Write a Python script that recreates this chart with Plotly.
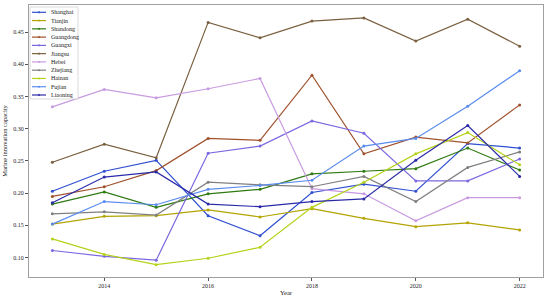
import plotly.graph_objects as go

years = [2013, 2014, 2015, 2016, 2017, 2018, 2019, 2020, 2021, 2022]
provinces = ["Shanghai", "Tianjin", "Shandong", "Guangdong", "Guangxi", "Jiangsu",
             "Hebei", "Zhejiang", "Hainan", "Fujian", "Liaoning"]

Shanghai = [0.203, 0.234, 0.251, 0.165, 0.134, 0.201, 0.214, 0.203, 0.277, 0.270]
Tianjin = [0.152, 0.164, 0.165, 0.174, 0.163, 0.176, 0.161, 0.148, 0.154, 0.143]
Shandong = [0.183, 0.202, 0.178, 0.199, 0.206, 0.230, 0.234, 0.238, 0.270, 0.236]
Guangdong = [0.195, 0.210, 0.235, 0.285, 0.282, 0.383, 0.261, 0.287, 0.278, 0.337]
Guangxi = [0.111, 0.102, 0.096, 0.262, 0.273, 0.312, 0.293, 0.219, 0.219, 0.253]
Jiangsu = [0.248, 0.276, 0.255, 0.465, 0.441, 0.467, 0.472, 0.436, 0.470, 0.428]
Hebei = [0.334, 0.361, 0.348, 0.362, 0.378, 0.207, 0.199, 0.157, 0.193, 0.193]
Zhejiang = [0.168, 0.171, 0.166, 0.217, 0.213, 0.210, 0.226, 0.187, 0.240, 0.264]
Hainan = [0.129, 0.105, 0.089, 0.099, 0.116, 0.178, 0.217, 0.261, 0.294, 0.244]
Fujian = [0.152, 0.187, 0.182, 0.206, 0.212, 0.220, 0.273, 0.285, 0.335, 0.390]
Liaoning = [0.185, 0.225, 0.233, 0.183, 0.179, 0.187, 0.191, 0.251, 0.305, 0.226]

series = [Shanghai, Tianjin, Shandong, Guangdong, Guangxi, Jiangsu,
          Hebei, Zhejiang, Hainan, Fujian, Liaoning]
colors = ["#2f4fd0", "#b3a400", "#2f7a12", "#a0522d", "#7b68e0", "#7a6040",
          "#c89ae0", "#808080", "#b5d21a", "#5a8cf0", "#2a2aa8"]

ytick_vals = [0.10, 0.15, 0.20, 0.25, 0.30, 0.35, 0.40, 0.45]
xtick_vals = [2014, 2016, 2018, 2020, 2022]

FONT = "Liberation Serif, Times New Roman, serif"
W, H = 550, 300
L, R, T, B = 29, 543, 5, 277

fig = go.Figure()
for name, vals, c in zip(provinces, series, colors):
    fig.add_trace(go.Scatter(x=years, y=vals, name=name, mode="lines+markers",
                             line=dict(color=c, width=1.2),
                             marker=dict(color=c, size=3), showlegend=False))

def px(x):
    return (x - L) / (R - L)

def py(y):
    return (B - y) / (B - T)

shapes = []
annotations = []
# legend frame
shapes.append(dict(type="rect", xref="paper", yref="paper",
                   x0=px(30), x1=px(78), y0=py(99), y1=py(7),
                   line=dict(color="#d0d0d0", width=0.8), fillcolor="rgba(255,255,255,0.8)",
                   layer="above"))
for i, (name, c) in enumerate(zip(provinces, colors)):
    yy = 12.3 + i * 8.27
    shapes.append(dict(type="line", xref="paper", yref="paper",
                       x0=px(32), x1=px(46), y0=py(yy), y1=py(yy),
                       line=dict(color=c, width=1.2), layer="above"))
    shapes.append(dict(type="circle", xref="paper", yref="paper",
                       x0=px(38.2), x1=px(39.8), y0=py(yy + 0.8), y1=py(yy - 0.8),
                       line=dict(color=c, width=0.5), fillcolor=c, layer="above"))
    annotations.append(dict(text=name, xref="paper", yref="paper",
                            x=px(48.5), y=py(yy), xanchor="left", yanchor="middle",
                            showarrow=False, font=dict(family=FONT, size=6, color="#222")))

fig.update_layout(
    width=W, height=H,
    margin=dict(l=L, r=W - R, t=T, b=H - B, autoexpand=False),
    paper_bgcolor="white", plot_bgcolor="white",
    font=dict(family=FONT, size=6, color="#222"),
    shapes=shapes, annotations=annotations,
    xaxis=dict(range=[2012.55, 2022.45], tickvals=xtick_vals,
               ticks="outside", ticklen=3, tickcolor="#555", tickwidth=0.8,
               showgrid=False, zeroline=False, showline=True, mirror=True,
               linecolor="#a0a0a0", linewidth=1.2,
               title=dict(text="Year", font=dict(family=FONT, size=6.5), standoff=2),
               tickfont=dict(family=FONT, size=6)),
    yaxis=dict(range=[0.0699, 0.492], tickvals=ytick_vals, tickformat=".2f",
               ticks="outside", ticklen=3, tickcolor="#555", tickwidth=0.8,
               showgrid=False, zeroline=False, showline=True, mirror=True,
               linecolor="#a0a0a0", linewidth=1.2,
               title=dict(text="Marine innovation capacity", font=dict(family=FONT, size=6.5), standoff=4),
               tickfont=dict(family=FONT, size=6)),
)

fig.write_html("out.html", config={"displayModeBar": False},
               post_script="document.body.style.margin='0';document.body.style.overflow='hidden';")
